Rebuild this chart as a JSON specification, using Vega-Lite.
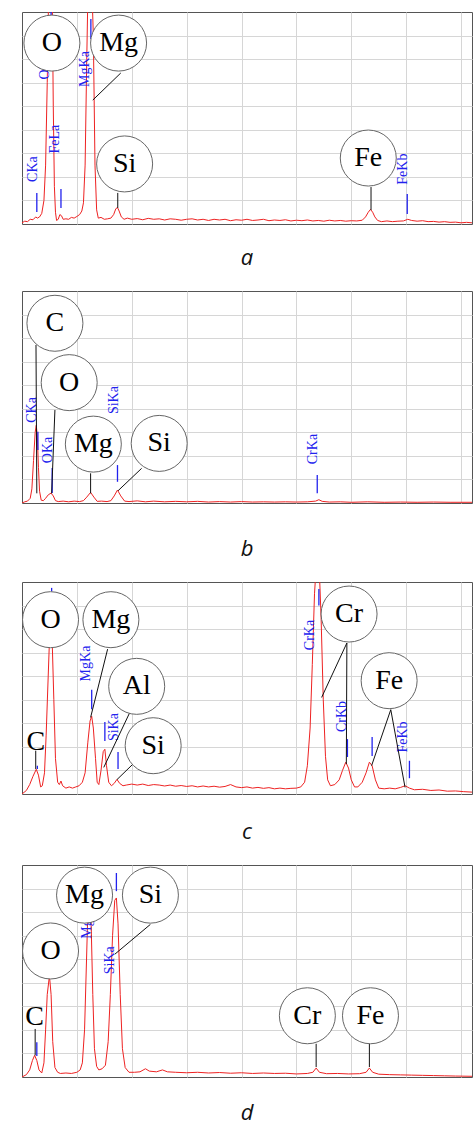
{
"$schema":"https://vega.github.io/schema/vega-lite/v6.json",
"background":"white",
"padding":{"left":20,"top":11,"right":4,"bottom":0},
"config":{"view":{"stroke":"#555","strokeWidth":1},"axis":{"labels":false,"ticks":false,"domain":false,"grid":true,"gridColor":"#d6d6d6","gridWidth":1},"title":{"font":"Open Sans","fontStyle":"italic","fontSize":22,"fontWeight":"normal","color":"#111","orient":"bottom","offset":27,"anchor":"middle"}},
"spacing":20,
"datasets":{
"spec":[
{"p":"a","x":0,"y":0.05},{"p":"a","x":0.05,"y":0.12},{"p":"a","x":0.1,"y":0.1},{"p":"a","x":0.15,"y":0.2},{"p":"a","x":0.2,"y":0.18},{"p":"a","x":0.25,"y":0.3},{"p":"a","x":0.28,"y":0.25},{"p":"a","x":0.32,"y":0.3},{"p":"a","x":0.36,"y":0.45},{"p":"a","x":0.4,"y":1.0},{"p":"a","x":0.43,"y":2.5},{"p":"a","x":0.46,"y":6.0},{"p":"a","x":0.49,"y":10.5},{"p":"a","x":0.52,"y":11},{"p":"a","x":0.55,"y":10},{"p":"a","x":0.57,"y":5},{"p":"a","x":0.59,"y":1.6},{"p":"a","x":0.61,"y":0.5},{"p":"a","x":0.63,"y":0.15},{"p":"a","x":0.66,"y":0.2},{"p":"a","x":0.69,"y":0.4},{"p":"a","x":0.72,"y":0.35},{"p":"a","x":0.75,"y":0.2},{"p":"a","x":0.8,"y":0.22},{"p":"a","x":0.85,"y":0.2},{"p":"a","x":0.9,"y":0.28},{"p":"a","x":0.95,"y":0.25},{"p":"a","x":1.0,"y":0.32},{"p":"a","x":1.05,"y":0.4},{"p":"a","x":1.09,"y":0.55},{"p":"a","x":1.12,"y":0.9},{"p":"a","x":1.15,"y":2.5},{"p":"a","x":1.18,"y":7},{"p":"a","x":1.21,"y":11},{"p":"a","x":1.26,"y":11},{"p":"a","x":1.3,"y":8},{"p":"a","x":1.33,"y":2.5},{"p":"a","x":1.36,"y":0.6},{"p":"a","x":1.39,"y":0.25},{"p":"a","x":1.44,"y":0.28},{"p":"a","x":1.5,"y":0.2},{"p":"a","x":1.56,"y":0.22},{"p":"a","x":1.62,"y":0.25},{"p":"a","x":1.67,"y":0.4},{"p":"a","x":1.71,"y":0.65},{"p":"a","x":1.74,"y":0.7},{"p":"a","x":1.77,"y":0.55},{"p":"a","x":1.81,"y":0.3},{"p":"a","x":1.86,"y":0.2},{"p":"a","x":1.92,"y":0.25},{"p":"a","x":2.0,"y":0.2},{"p":"a","x":2.1,"y":0.23},{"p":"a","x":2.2,"y":0.18},{"p":"a","x":2.3,"y":0.24},{"p":"a","x":2.4,"y":0.2},{"p":"a","x":2.5,"y":0.22},{"p":"a","x":2.6,"y":0.17},{"p":"a","x":2.7,"y":0.22},{"p":"a","x":2.8,"y":0.2},{"p":"a","x":2.9,"y":0.16},{"p":"a","x":3.0,"y":0.2},{"p":"a","x":3.1,"y":0.22},{"p":"a","x":3.2,"y":0.17},{"p":"a","x":3.3,"y":0.2},{"p":"a","x":3.4,"y":0.15},{"p":"a","x":3.5,"y":0.2},{"p":"a","x":3.6,"y":0.17},{"p":"a","x":3.7,"y":0.2},{"p":"a","x":3.8,"y":0.14},{"p":"a","x":3.9,"y":0.18},{"p":"a","x":4.0,"y":0.16},{"p":"a","x":4.1,"y":0.2},{"p":"a","x":4.2,"y":0.15},{"p":"a","x":4.3,"y":0.17},{"p":"a","x":4.4,"y":0.2},{"p":"a","x":4.5,"y":0.14},{"p":"a","x":4.6,"y":0.17},{"p":"a","x":4.7,"y":0.15},{"p":"a","x":4.8,"y":0.18},{"p":"a","x":4.9,"y":0.13},{"p":"a","x":5.0,"y":0.16},{"p":"a","x":5.1,"y":0.14},{"p":"a","x":5.2,"y":0.17},{"p":"a","x":5.3,"y":0.13},{"p":"a","x":5.4,"y":0.15},{"p":"a","x":5.5,"y":0.12},{"p":"a","x":5.6,"y":0.16},{"p":"a","x":5.7,"y":0.13},{"p":"a","x":5.8,"y":0.15},{"p":"a","x":5.9,"y":0.12},{"p":"a","x":6.0,"y":0.14},{"p":"a","x":6.1,"y":0.13},{"p":"a","x":6.2,"y":0.16},{"p":"a","x":6.26,"y":0.3},{"p":"a","x":6.31,"y":0.5},{"p":"a","x":6.35,"y":0.62},{"p":"a","x":6.39,"y":0.5},{"p":"a","x":6.43,"y":0.3},{"p":"a","x":6.48,"y":0.15},{"p":"a","x":6.55,"y":0.1},{"p":"a","x":6.65,"y":0.13},{"p":"a","x":6.75,"y":0.1},{"p":"a","x":6.85,"y":0.12},{"p":"a","x":6.95,"y":0.13},{"p":"a","x":7.03,"y":0.2},{"p":"a","x":7.1,"y":0.15},{"p":"a","x":7.2,"y":0.12},{"p":"a","x":7.3,"y":0.14},{"p":"a","x":7.4,"y":0.1},{"p":"a","x":7.5,"y":0.11},{"p":"a","x":7.6,"y":0.08},{"p":"a","x":7.7,"y":0.1},{"p":"a","x":7.8,"y":0.07},{"p":"a","x":7.9,"y":0.08},{"p":"a","x":8.0,"y":0.05},{"p":"a","x":8.1,"y":0.07},{"p":"a","x":8.2,"y":0.05},
{"p":"b","x":0,"y":0},{"p":"b","x":0.05,"y":0.05},{"p":"b","x":0.1,"y":0.08},{"p":"b","x":0.15,"y":0.2},{"p":"b","x":0.18,"y":0.6},{"p":"b","x":0.21,"y":1.8},{"p":"b","x":0.24,"y":3.0},{"p":"b","x":0.26,"y":3.3},{"p":"b","x":0.28,"y":2.8},{"p":"b","x":0.3,"y":1.5},{"p":"b","x":0.32,"y":0.5},{"p":"b","x":0.35,"y":0.12},{"p":"b","x":0.39,"y":0.1},{"p":"b","x":0.43,"y":0.2},{"p":"b","x":0.48,"y":0.35},{"p":"b","x":0.53,"y":0.42},{"p":"b","x":0.57,"y":0.3},{"p":"b","x":0.61,"y":0.1},{"p":"b","x":0.66,"y":0.06},{"p":"b","x":0.75,"y":0.08},{"p":"b","x":0.85,"y":0.05},{"p":"b","x":0.95,"y":0.08},{"p":"b","x":1.05,"y":0.06},{"p":"b","x":1.12,"y":0.1},{"p":"b","x":1.18,"y":0.25},{"p":"b","x":1.25,"y":0.45},{"p":"b","x":1.31,"y":0.25},{"p":"b","x":1.37,"y":0.07},{"p":"b","x":1.45,"y":0.08},{"p":"b","x":1.55,"y":0.06},{"p":"b","x":1.62,"y":0.1},{"p":"b","x":1.68,"y":0.3},{"p":"b","x":1.74,"y":0.55},{"p":"b","x":1.8,"y":0.3},{"p":"b","x":1.87,"y":0.08},{"p":"b","x":1.95,"y":0.06},{"p":"b","x":2.1,"y":0.09},{"p":"b","x":2.25,"y":0.05},{"p":"b","x":2.4,"y":0.08},{"p":"b","x":2.6,"y":0.05},{"p":"b","x":2.8,"y":0.07},{"p":"b","x":3.0,"y":0.05},{"p":"b","x":3.2,"y":0.07},{"p":"b","x":3.4,"y":0.04},{"p":"b","x":3.6,"y":0.06},{"p":"b","x":3.8,"y":0.04},{"p":"b","x":4.0,"y":0.06},{"p":"b","x":4.2,"y":0.04},{"p":"b","x":4.4,"y":0.05},{"p":"b","x":4.6,"y":0.04},{"p":"b","x":4.8,"y":0.05},{"p":"b","x":5.0,"y":0.04},{"p":"b","x":5.2,"y":0.05},{"p":"b","x":5.35,"y":0.08},{"p":"b","x":5.41,"y":0.14},{"p":"b","x":5.47,"y":0.07},{"p":"b","x":5.6,"y":0.04},{"p":"b","x":5.8,"y":0.05},{"p":"b","x":6.0,"y":0.03},{"p":"b","x":6.3,"y":0.05},{"p":"b","x":6.6,"y":0.03},{"p":"b","x":6.9,"y":0.04},{"p":"b","x":7.2,"y":0.03},{"p":"b","x":7.5,"y":0.04},{"p":"b","x":7.8,"y":0.03},{"p":"b","x":8.2,"y":0.03},
{"p":"c","x":0,"y":0},{"p":"c","x":0.08,"y":0.15},{"p":"c","x":0.14,"y":0.4},{"p":"c","x":0.2,"y":0.75},{"p":"c","x":0.26,"y":1.05},{"p":"c","x":0.3,"y":0.8},{"p":"c","x":0.34,"y":0.3},{"p":"c","x":0.37,"y":0.35},{"p":"c","x":0.41,"y":0.9},{"p":"c","x":0.44,"y":2.5},{"p":"c","x":0.47,"y":4.5},{"p":"c","x":0.5,"y":6.5},{"p":"c","x":0.52,"y":7.5},{"p":"c","x":0.55,"y":6.5},{"p":"c","x":0.58,"y":4},{"p":"c","x":0.61,"y":1.5},{"p":"c","x":0.65,"y":0.5},{"p":"c","x":0.68,"y":0.4},{"p":"c","x":0.71,"y":0.55},{"p":"c","x":0.74,"y":0.35},{"p":"c","x":0.8,"y":0.25},{"p":"c","x":0.86,"y":0.3},{"p":"c","x":0.92,"y":0.25},{"p":"c","x":0.98,"y":0.3},{"p":"c","x":1.04,"y":0.35},{"p":"c","x":1.1,"y":0.5},{"p":"c","x":1.15,"y":0.9},{"p":"c","x":1.2,"y":2.2},{"p":"c","x":1.24,"y":3.1},{"p":"c","x":1.27,"y":3.3},{"p":"c","x":1.3,"y":2.8},{"p":"c","x":1.34,"y":1.5},{"p":"c","x":1.37,"y":0.5},{"p":"c","x":1.4,"y":0.4},{"p":"c","x":1.44,"y":1.0},{"p":"c","x":1.48,"y":1.8},{"p":"c","x":1.51,"y":1.9},{"p":"c","x":1.54,"y":1.2},{"p":"c","x":1.58,"y":0.5},{"p":"c","x":1.63,"y":0.35},{"p":"c","x":1.68,"y":0.45},{"p":"c","x":1.73,"y":0.62},{"p":"c","x":1.78,"y":0.45},{"p":"c","x":1.84,"y":0.35},{"p":"c","x":1.9,"y":0.38},{"p":"c","x":2.0,"y":0.42},{"p":"c","x":2.1,"y":0.38},{"p":"c","x":2.2,"y":0.42},{"p":"c","x":2.3,"y":0.36},{"p":"c","x":2.4,"y":0.4},{"p":"c","x":2.5,"y":0.38},{"p":"c","x":2.6,"y":0.34},{"p":"c","x":2.7,"y":0.38},{"p":"c","x":2.8,"y":0.33},{"p":"c","x":2.9,"y":0.36},{"p":"c","x":3.0,"y":0.32},{"p":"c","x":3.1,"y":0.35},{"p":"c","x":3.2,"y":0.3},{"p":"c","x":3.3,"y":0.34},{"p":"c","x":3.4,"y":0.3},{"p":"c","x":3.5,"y":0.33},{"p":"c","x":3.6,"y":0.29},{"p":"c","x":3.7,"y":0.32},{"p":"c","x":3.8,"y":0.4},{"p":"c","x":3.9,"y":0.3},{"p":"c","x":4.0,"y":0.27},{"p":"c","x":4.1,"y":0.3},{"p":"c","x":4.2,"y":0.25},{"p":"c","x":4.3,"y":0.28},{"p":"c","x":4.4,"y":0.24},{"p":"c","x":4.5,"y":0.27},{"p":"c","x":4.6,"y":0.22},{"p":"c","x":4.7,"y":0.25},{"p":"c","x":4.8,"y":0.22},{"p":"c","x":4.9,"y":0.24},{"p":"c","x":5.0,"y":0.25},{"p":"c","x":5.08,"y":0.3},{"p":"c","x":5.15,"y":0.5},{"p":"c","x":5.2,"y":1.2},{"p":"c","x":5.25,"y":2.8},{"p":"c","x":5.29,"y":5.5},{"p":"c","x":5.33,"y":8.5},{"p":"c","x":5.37,"y":10},{"p":"c","x":5.41,"y":10},{"p":"c","x":5.45,"y":7.5},{"p":"c","x":5.49,"y":4},{"p":"c","x":5.53,"y":1.6},{"p":"c","x":5.57,"y":0.6},{"p":"c","x":5.62,"y":0.35},{"p":"c","x":5.7,"y":0.4},{"p":"c","x":5.78,"y":0.6},{"p":"c","x":5.84,"y":1.0},{"p":"c","x":5.9,"y":1.35},{"p":"c","x":5.95,"y":1.1},{"p":"c","x":6.0,"y":0.6},{"p":"c","x":6.06,"y":0.3},{"p":"c","x":6.12,"y":0.3},{"p":"c","x":6.2,"y":0.5},{"p":"c","x":6.27,"y":0.9},{"p":"c","x":6.33,"y":1.35},{"p":"c","x":6.38,"y":1.2},{"p":"c","x":6.44,"y":0.6},{"p":"c","x":6.5,"y":0.25},{"p":"c","x":6.6,"y":0.22},{"p":"c","x":6.7,"y":0.25},{"p":"c","x":6.8,"y":0.22},{"p":"c","x":6.9,"y":0.28},{"p":"c","x":6.98,"y":0.35},{"p":"c","x":7.06,"y":0.25},{"p":"c","x":7.15,"y":0.18},{"p":"c","x":7.3,"y":0.2},{"p":"c","x":7.45,"y":0.15},{"p":"c","x":7.6,"y":0.17},{"p":"c","x":7.75,"y":0.12},{"p":"c","x":7.9,"y":0.13},{"p":"c","x":8.05,"y":0.1},{"p":"c","x":8.2,"y":0.08},
{"p":"d","x":0,"y":0},{"p":"d","x":0.08,"y":0.1},{"p":"d","x":0.14,"y":0.3},{"p":"d","x":0.19,"y":0.7},{"p":"d","x":0.23,"y":0.92},{"p":"d","x":0.27,"y":0.7},{"p":"d","x":0.31,"y":0.3},{"p":"d","x":0.36,"y":0.17},{"p":"d","x":0.4,"y":0.6},{"p":"d","x":0.43,"y":2.0},{"p":"d","x":0.46,"y":3.5},{"p":"d","x":0.5,"y":4.3},{"p":"d","x":0.53,"y":3.5},{"p":"d","x":0.56,"y":1.5},{"p":"d","x":0.6,"y":0.4},{"p":"d","x":0.65,"y":0.2},{"p":"d","x":0.7,"y":0.15},{"p":"d","x":0.8,"y":0.17},{"p":"d","x":0.9,"y":0.15},{"p":"d","x":1.0,"y":0.2},{"p":"d","x":1.06,"y":0.3},{"p":"d","x":1.1,"y":0.6},{"p":"d","x":1.14,"y":2.0},{"p":"d","x":1.17,"y":4.5},{"p":"d","x":1.2,"y":7.0},{"p":"d","x":1.23,"y":7.5},{"p":"d","x":1.26,"y":6.5},{"p":"d","x":1.29,"y":3.5},{"p":"d","x":1.32,"y":1.2},{"p":"d","x":1.36,"y":0.45},{"p":"d","x":1.4,"y":0.3},{"p":"d","x":1.46,"y":0.35},{"p":"d","x":1.52,"y":0.5},{"p":"d","x":1.57,"y":1.5},{"p":"d","x":1.61,"y":3.5},{"p":"d","x":1.65,"y":6.0},{"p":"d","x":1.69,"y":7.5},{"p":"d","x":1.72,"y":7.6},{"p":"d","x":1.75,"y":6.5},{"p":"d","x":1.79,"y":3.5},{"p":"d","x":1.83,"y":1.2},{"p":"d","x":1.88,"y":0.4},{"p":"d","x":1.95,"y":0.2},{"p":"d","x":2.05,"y":0.2},{"p":"d","x":2.15,"y":0.22},{"p":"d","x":2.25,"y":0.35},{"p":"d","x":2.32,"y":0.25},{"p":"d","x":2.45,"y":0.22},{"p":"d","x":2.56,"y":0.3},{"p":"d","x":2.65,"y":0.22},{"p":"d","x":2.8,"y":0.2},{"p":"d","x":3.0,"y":0.18},{"p":"d","x":3.2,"y":0.2},{"p":"d","x":3.4,"y":0.17},{"p":"d","x":3.6,"y":0.19},{"p":"d","x":3.8,"y":0.16},{"p":"d","x":4.0,"y":0.18},{"p":"d","x":4.2,"y":0.15},{"p":"d","x":4.4,"y":0.17},{"p":"d","x":4.6,"y":0.15},{"p":"d","x":4.8,"y":0.16},{"p":"d","x":5.0,"y":0.13},{"p":"d","x":5.2,"y":0.15},{"p":"d","x":5.3,"y":0.2},{"p":"d","x":5.36,"y":0.38},{"p":"d","x":5.42,"y":0.2},{"p":"d","x":5.55,"y":0.14},{"p":"d","x":5.75,"y":0.15},{"p":"d","x":5.95,"y":0.13},{"p":"d","x":6.15,"y":0.14},{"p":"d","x":6.27,"y":0.2},{"p":"d","x":6.33,"y":0.38},{"p":"d","x":6.39,"y":0.2},{"p":"d","x":6.5,"y":0.12},{"p":"d","x":6.7,"y":0.1},{"p":"d","x":6.9,"y":0.09},{"p":"d","x":7.1,"y":0.08},{"p":"d","x":7.3,"y":0.07},{"p":"d","x":7.5,"y":0.06},{"p":"d","x":7.7,"y":0.05},{"p":"d","x":7.9,"y":0.04},{"p":"d","x":8.2,"y":0.03}
],
"markers":[
{"p":"a","x":0.27,"y":0.51,"y2":1.32},{"p":"a","x":0.53,"y":8.6,"y2":9.2},{"p":"a","x":0.71,"y":0.68,"y2":1.49},{"p":"a","x":1.255,"y":7.85,"y2":8.7},{"p":"a","x":7.02,"y":0.42,"y2":1.27},
{"p":"b","x":0.29,"y":2.25,"y2":3.03},{"p":"b","x":0.55,"y":0.42,"y2":1.49},{"p":"b","x":1.74,"y":0.9,"y2":1.61},{"p":"b","x":5.38,"y":0.41,"y2":1.19},
{"p":"c","x":0.28,"y":1.06,"y2":1.2},{"p":"c","x":0.54,"y":8.6,"y2":8.75},{"p":"c","x":1.27,"y":3.6,"y2":4.43},{"p":"c","x":1.51,"y":2.25,"y2":3.06},{"p":"c","x":1.75,"y":1.06,"y2":1.78},{"p":"c","x":5.41,"y":8.0,"y2":8.7},{"p":"c","x":5.93,"y":1.57,"y2":2.33},{"p":"c","x":6.38,"y":1.61,"y2":2.42},{"p":"c","x":7.06,"y":0.67,"y2":1.41},
{"p":"d","x":0.27,"y":0.89,"y2":1.48},{"p":"d","x":1.72,"y":7.89,"y2":8.66}
],
"lines":[
{"p":"a","t":"CKa","x":0.2,"y":2.33},{"p":"a","t":"OKa","x":0.42,"y":6.7},{"p":"a","t":"FeLa","x":0.6,"y":3.6},{"p":"a","t":"MgKa","x":1.145,"y":6.58},{"p":"a","t":"FeKb","x":6.95,"y":2.33},
{"p":"b","t":"CKa","x":0.19,"y":3.95},{"p":"b","t":"OKa","x":0.47,"y":2.25},{"p":"b","t":"SiKa","x":1.68,"y":4.37},{"p":"b","t":"CrKa","x":5.31,"y":2.29},
{"p":"c","t":"MgKa","x":1.17,"y":5.54},{"p":"c","t":"SiKa","x":1.67,"y":2.84},{"p":"c","t":"CrKa","x":5.24,"y":6.75},{"p":"c","t":"CrKb","x":5.84,"y":3.29},{"p":"c","t":"FeKb","x":6.95,"y":2.42},
{"p":"d","t":"MgKa","x":1.19,"y":6.63},{"p":"d","t":"SiKa","x":1.6,"y":4.96}
],
"callouts":[
{"p":"a","x":1.8,"y":6.41,"x2":1.29,"y2":5.26},{"p":"a","x":1.745,"y":1.32,"x2":1.745,"y2":0.68},{"p":"a","x":6.36,"y":1.57,"x2":6.36,"y2":0.59},
{"p":"b","x":0.255,"y":6.71,"x2":0.27,"y2":0.41},{"p":"b","x":0.6,"y":3.95,"x2":0.54,"y2":0.41},{"p":"b","x":1.25,"y":1.26,"x2":1.25,"y2":0.41},{"p":"b","x":2.18,"y":1.47,"x2":1.75,"y2":0.52},
{"p":"c","x":0.25,"y":1.84,"x2":0.25,"y2":1.06},{"p":"c","x":1.56,"y":6.15,"x2":1.25,"y2":3.25},{"p":"c","x":1.96,"y":3.44,"x2":1.49,"y2":1.13},{"p":"c","x":2.15,"y":1.56,"x2":1.73,"y2":0.61},{"p":"c","x":5.92,"y":6.41,"x2":5.46,"y2":4.1},{"p":"c","x":5.92,"y":6.41,"x2":5.91,"y2":1.27},{"p":"c","x":6.72,"y":3.58,"x2":6.37,"y2":1.2},{"p":"c","x":6.72,"y":3.58,"x2":6.98,"y2":0.28},
{"p":"d","x":0.24,"y":2.04,"x2":0.24,"y2":0.92},{"p":"d","x":2.34,"y":6.48,"x2":1.69,"y2":5.21},{"p":"d","x":5.36,"y":1.41,"x2":5.36,"y2":0.42},{"p":"d","x":6.33,"y":1.41,"x2":6.33,"y2":0.42}
],
"circles":[
{"p":"a","t":"O","x":0.545,"y":7.68},{"p":"a","t":"Mg","x":1.76,"y":7.68},{"p":"a","t":"Si","x":1.87,"y":2.55},{"p":"a","t":"Fe","x":6.31,"y":2.8},
{"p":"b","t":"C","x":0.6,"y":7.63},{"p":"b","t":"O","x":0.86,"y":5.11},{"p":"b","t":"Mg","x":1.3,"y":2.5},{"p":"b","t":"Si","x":2.5,"y":2.53},
{"p":"c","t":"O","x":0.52,"y":7.4},{"p":"c","t":"Mg","x":1.62,"y":7.4},{"p":"c","t":"Al","x":2.09,"y":4.57},{"p":"c","t":"Si","x":2.39,"y":2.05},{"p":"c","t":"Cr","x":5.96,"y":7.64},{"p":"c","t":"Fe","x":6.69,"y":4.81},
{"p":"d","t":"O","x":0.52,"y":5.35},{"p":"d","t":"Mg","x":1.14,"y":7.72},{"p":"d","t":"Si","x":2.34,"y":7.72},{"p":"d","t":"Cr","x":5.2,"y":2.6},{"p":"d","t":"Fe","x":6.35,"y":2.6}
],
"plain":[
{"p":"c","t":"C","x":0.25,"y":2.19},{"p":"d","t":"C","x":0.23,"y":2.53}
]
},
"vconcat":[
{"title":{"text":"a","offset":24},"width":450,"height":212,
"encoding":{"x":{"field":"x","type":"quantitative","scale":{"domain":[0,8.2],"nice":false,"zero":false},"axis":{"title":null,"values":[1,2,3,4,5,6,7,8]}},"y":{"field":"y","type":"quantitative","scale":{"domain":[0,9],"nice":false},"axis":{"title":null,"values":[1,2,3,4,5,6,7,8]}}},
"layer":[
{"data":{"name":"spec"},"transform":[{"filter":"datum.p=='a'"}],"mark":{"type":"line","color":"#ee2222","strokeWidth":1,"clip":true},"encoding":{}},
{"data":{"name":"markers"},"transform":[{"filter":"datum.p=='a'"}],"mark":{"type":"rule","color":"#2222ee","strokeWidth":1.3,"clip":true},"encoding":{"y2":{"field":"y2"}}},
{"data":{"name":"lines"},"transform":[{"filter":"datum.p=='a'"}],"mark":{"type":"text","angle":270,"font":"Liberation Serif","fontSize":14,"color":"#2222ee","align":"center","baseline":"middle"},"encoding":{"text":{"field":"t"}}},
{"data":{"name":"callouts"},"transform":[{"filter":"datum.p=='a'"}],"mark":{"type":"rule","color":"#111","strokeWidth":1},"encoding":{"x2":{"field":"x2"},"y2":{"field":"y2"}}},
{"data":{"name":"circles"},"transform":[{"filter":"datum.p=='a'"}],"mark":{"type":"point","shape":"circle","size":3136,"filled":true,"fill":"white","stroke":"#666","strokeWidth":1,"opacity":1,"fillOpacity":1,"strokeOpacity":1},"encoding":{}},
{"data":{"name":"circles"},"transform":[{"filter":"datum.p=='a'"}],"mark":{"type":"text","font":"Liberation Serif","fontSize":28,"color":"#000","align":"center","baseline":"middle"},"encoding":{"text":{"field":"t"}}}
]},
{"title":{"text":"b","offset":36},"width":450,"height":212,
"encoding":{"x":{"field":"x","type":"quantitative","scale":{"domain":[0,8.2],"nice":false,"zero":false},"axis":{"title":null,"values":[1,2,3,4,5,6,7,8]}},"y":{"field":"y","type":"quantitative","scale":{"domain":[0,9],"nice":false},"axis":{"title":null,"values":[1,2,3,4,5,6,7,8]}}},
"layer":[
{"data":{"name":"spec"},"transform":[{"filter":"datum.p=='b'"}],"mark":{"type":"line","color":"#ee2222","strokeWidth":1,"clip":true},"encoding":{}},
{"data":{"name":"markers"},"transform":[{"filter":"datum.p=='b'"}],"mark":{"type":"rule","color":"#2222ee","strokeWidth":1.3,"clip":true},"encoding":{"y2":{"field":"y2"}}},
{"data":{"name":"lines"},"transform":[{"filter":"datum.p=='b'"}],"mark":{"type":"text","angle":270,"font":"Liberation Serif","fontSize":14,"color":"#2222ee","align":"center","baseline":"middle"},"encoding":{"text":{"field":"t"}}},
{"data":{"name":"callouts"},"transform":[{"filter":"datum.p=='b'"}],"mark":{"type":"rule","color":"#111","strokeWidth":1},"encoding":{"x2":{"field":"x2"},"y2":{"field":"y2"}}},
{"data":{"name":"circles"},"transform":[{"filter":"datum.p=='b'"}],"mark":{"type":"point","shape":"circle","size":3136,"filled":true,"fill":"white","stroke":"#666","strokeWidth":1,"opacity":1,"fillOpacity":1,"strokeOpacity":1},"encoding":{}},
{"data":{"name":"circles"},"transform":[{"filter":"datum.p=='b'"}],"mark":{"type":"text","font":"Liberation Serif","fontSize":28,"color":"#000","align":"center","baseline":"middle"},"encoding":{"text":{"field":"t"}}}
]},
{"title":{"text":"c","offset":28},"width":450,"height":212,
"encoding":{"x":{"field":"x","type":"quantitative","scale":{"domain":[0,8.2],"nice":false,"zero":false},"axis":{"title":null,"values":[1,2,3,4,5,6,7,8]}},"y":{"field":"y","type":"quantitative","scale":{"domain":[0,9],"nice":false},"axis":{"title":null,"values":[1,2,3,4,5,6,7,8]}}},
"layer":[
{"data":{"name":"spec"},"transform":[{"filter":"datum.p=='c'"}],"mark":{"type":"line","color":"#ee2222","strokeWidth":1,"clip":true},"encoding":{}},
{"data":{"name":"markers"},"transform":[{"filter":"datum.p=='c'"}],"mark":{"type":"rule","color":"#2222ee","strokeWidth":1.3,"clip":true},"encoding":{"y2":{"field":"y2"}}},
{"data":{"name":"lines"},"transform":[{"filter":"datum.p=='c'"}],"mark":{"type":"text","angle":270,"font":"Liberation Serif","fontSize":14,"color":"#2222ee","align":"center","baseline":"middle"},"encoding":{"text":{"field":"t"}}},
{"data":{"name":"callouts"},"transform":[{"filter":"datum.p=='c'"}],"mark":{"type":"rule","color":"#111","strokeWidth":1},"encoding":{"x2":{"field":"x2"},"y2":{"field":"y2"}}},
{"data":{"name":"circles"},"transform":[{"filter":"datum.p=='c'"}],"mark":{"type":"point","shape":"circle","size":3136,"filled":true,"fill":"white","stroke":"#666","strokeWidth":1,"opacity":1,"fillOpacity":1,"strokeOpacity":1},"encoding":{}},
{"data":{"name":"circles"},"transform":[{"filter":"datum.p=='c'"}],"mark":{"type":"text","font":"Liberation Serif","fontSize":28,"color":"#000","align":"center","baseline":"middle"},"encoding":{"text":{"field":"t"}}},
{"data":{"name":"plain"},"transform":[{"filter":"datum.p=='c'"}],"mark":{"type":"text","font":"Liberation Serif","fontSize":28,"color":"#000","align":"center","baseline":"middle"},"encoding":{"text":{"field":"t"}}}
]},
{"title":{"text":"d","offset":26},"width":450,"height":212,
"encoding":{"x":{"field":"x","type":"quantitative","scale":{"domain":[0,8.2],"nice":false,"zero":false},"axis":{"title":null,"values":[1,2,3,4,5,6,7,8]}},"y":{"field":"y","type":"quantitative","scale":{"domain":[0,9],"nice":false},"axis":{"title":null,"values":[1,2,3,4,5,6,7,8]}}},
"layer":[
{"data":{"name":"spec"},"transform":[{"filter":"datum.p=='d'"}],"mark":{"type":"line","color":"#ee2222","strokeWidth":1,"clip":true},"encoding":{}},
{"data":{"name":"markers"},"transform":[{"filter":"datum.p=='d'"}],"mark":{"type":"rule","color":"#2222ee","strokeWidth":1.3,"clip":true},"encoding":{"y2":{"field":"y2"}}},
{"data":{"name":"lines"},"transform":[{"filter":"datum.p=='d'"}],"mark":{"type":"text","angle":270,"font":"Liberation Serif","fontSize":14,"color":"#2222ee","align":"center","baseline":"middle"},"encoding":{"text":{"field":"t"}}},
{"data":{"name":"callouts"},"transform":[{"filter":"datum.p=='d'"}],"mark":{"type":"rule","color":"#111","strokeWidth":1},"encoding":{"x2":{"field":"x2"},"y2":{"field":"y2"}}},
{"data":{"name":"circles"},"transform":[{"filter":"datum.p=='d'"}],"mark":{"type":"point","shape":"circle","size":3136,"filled":true,"fill":"white","stroke":"#666","strokeWidth":1,"opacity":1,"fillOpacity":1,"strokeOpacity":1},"encoding":{}},
{"data":{"name":"circles"},"transform":[{"filter":"datum.p=='d'"}],"mark":{"type":"text","font":"Liberation Serif","fontSize":28,"color":"#000","align":"center","baseline":"middle"},"encoding":{"text":{"field":"t"}}},
{"data":{"name":"plain"},"transform":[{"filter":"datum.p=='d'"}],"mark":{"type":"text","font":"Liberation Serif","fontSize":28,"color":"#000","align":"center","baseline":"middle"},"encoding":{"text":{"field":"t"}}}
]}
]
}
